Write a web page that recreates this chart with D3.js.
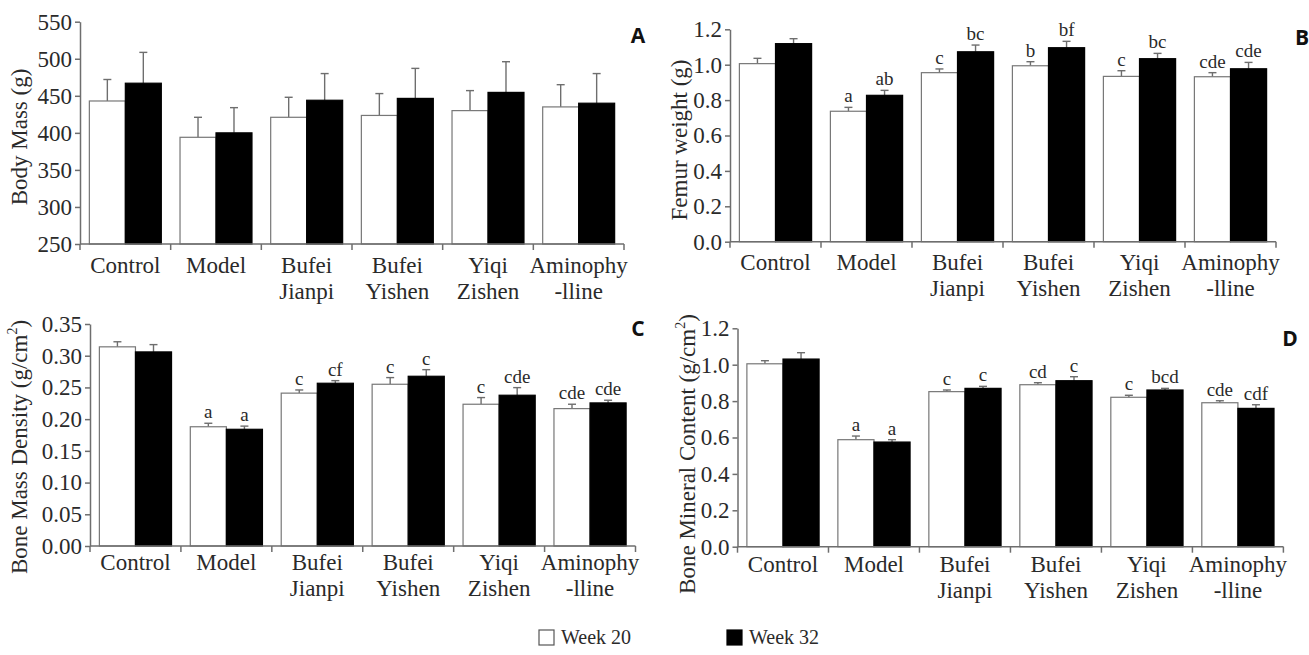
<!DOCTYPE html>
<html>
<head>
<meta charset="utf-8">
<script src="https://cdn.jsdelivr.net/npm/d3@7"></script>
<style>
  body { margin: 0; background: #fff; }
  text { font-family: 'Liberation Serif', 'Times New Roman', serif; fill: #2a2a2a; }
  .panel-letter { font-family: 'Open Sans', 'Liberation Sans', sans-serif; font-weight: bold; fill: #111; }
</style>
</head>
<body>
<div id="chart"></div>
<script>
// groups on the x axis (label lines)
const categories = ['Control', 'Model', 'Bufei Jianpi', 'Bufei Yishen', 'Yiqi Zishen', 'Aminophylline'];
const categoryLines = [['Control'], ['Model'], ['Bufei', 'Jianpi'], ['Bufei', 'Yishen'], ['Yiqi', 'Zishen'], ['Aminophy', '-lline']];
const seriesNames = ['Week 20', 'Week 32'];

// A - body mass (g)
const bodyMass20 = [443, 394, 421, 423.5, 430, 435];
const bodyMass20Err = [29, 27, 27, 29.5, 27, 30];
const bodyMass32 = [467, 400, 444, 446.5, 454.6, 440];
const bodyMass32Err = [41.6, 34, 36, 40.5, 41.4, 40];
const bodyMassTicks = [250, 300, 350, 400, 450, 500, 550];

// B - femur weight (g)
const femur20 = [1.006, 0.737, 0.955, 0.994, 0.934, 0.932];
const femur20Err = [0.03, 0.022, 0.021, 0.023, 0.032, 0.023];
const femur32 = [1.119, 0.827, 1.073, 1.096, 1.034, 0.977];
const femur32Err = [0.028, 0.028, 0.038, 0.036, 0.03, 0.036];
const femur20Sig = ['', 'a', 'c', 'b', 'c', 'cde'];
const femur32Sig = ['', 'ab', 'bc', 'bf', 'bc', 'cde'];
const femurTicks = [0, 0.2, 0.4, 0.6, 0.8, 1.0, 1.2];

// C - bone mass density (g/cm2)
const bmd20 = [0.314, 0.188, 0.241, 0.255, 0.2235, 0.2166];
const bmd20Err = [0.008, 0.0055, 0.005, 0.0105, 0.0105, 0.0069];
const bmd32 = [0.306, 0.184, 0.2566, 0.2676, 0.2377, 0.2256];
const bmd32Err = [0.0115, 0.005, 0.0041, 0.0104, 0.012, 0.0042];
const bmd20Sig = ['', 'a', 'c', 'c', 'c', 'cde'];
const bmd32Sig = ['', 'a', 'cf', 'c', 'cde', 'cde'];
const bmdTicks = [0, 0.05, 0.1, 0.15, 0.2, 0.25, 0.3, 0.35];

// D - bone mineral content (g/cm2)
const bmc20 = [1.005, 0.588, 0.852, 0.89, 0.821, 0.791];
const bmc20Err = [0.017, 0.02, 0.009, 0.011, 0.011, 0.011];
const bmc32 = [1.031, 0.575, 0.87, 0.912, 0.861, 0.76];
const bmc32Err = [0.035, 0.013, 0.011, 0.022, 0.009, 0.02];
const bmc20Sig = ['', 'a', 'c', 'cd', 'c', 'cde'];
const bmc32Sig = ['', 'a', 'c', 'c', 'bcd', 'cdf'];
const bmcTicks = [0, 0.2, 0.4, 0.6, 0.8, 1.0, 1.2];

const width = 1309,
  height = 655;

const axisColor = '#6e6e6e';

const svg = d3
  .select('#chart')
  .append('svg')
  .attr('width', width)
  .attr('height', height);

const panels = [
  {
    letter: 'A', title: ['Body Mass (g)'], ticks: bodyMassTicks, fmt: d3.format('d'),
    v20: bodyMass20, e20: bodyMass20Err, v32: bodyMass32, e32: bodyMass32Err, s20: null, s32: null,
    x0: 80, x1: 624, top: 21.7, bottom: 244, labelDy: 29,
    titleX: 27, titleY: 137, letterX: 638, letterY: 35
  },
  {
    letter: 'B', title: ['Femur weight (g)'], ticks: femurTicks, fmt: d3.format('.1f'),
    v20: femur20, e20: femur20Err, v32: femur32, e32: femur32Err, s20: femur20Sig, s32: femur32Sig,
    x0: 730, x1: 1276, top: 29.3, bottom: 241.7, labelDy: 28,
    titleX: 687, titleY: 140, letterX: 1302, letterY: 37
  },
  {
    letter: 'C', title: ['Bone Mass Density (g/cm', '2', ')'], ticks: bmdTicks, fmt: d3.format('.2f'),
    v20: bmd20, e20: bmd20Err, v32: bmd32, e32: bmd32Err, s20: bmd20Sig, s32: bmd32Sig,
    x0: 90, x1: 635.5, top: 324, bottom: 546, labelDy: 24,
    titleX: 27, titleY: 447, letterX: 638, letterY: 328
  },
  {
    letter: 'D', title: ['Bone Mineral Content (g/cm', '2', ')'], ticks: bmcTicks, fmt: d3.format('.1f'),
    v20: bmc20, e20: bmc20Err, v32: bmc32, e32: bmc32Err, s20: bmc20Sig, s32: bmc32Sig,
    x0: 737.5, x1: 1283.4, top: 328.3, bottom: 546.7, labelDy: 25,
    titleX: 695, titleY: 454, letterX: 1290, letterY: 338
  }
];

panels.forEach((p) => drawPanel(p));

function drawPanel(p) {
  const g = svg.append('g');

  const x = d3.scaleBand().domain(categories).range([p.x0, p.x1]).padding(0);
  const xs = d3
    .scaleBand()
    .domain(seriesNames)
    .range([0, x.bandwidth()])
    .paddingInner(0)
    .paddingOuter(0.26);
  const y = d3
    .scaleLinear()
    .domain([p.ticks[0], p.ticks[p.ticks.length - 1]])
    .range([p.bottom, p.top]);

  const rows = categories.map((c, i) => [
    { cat: c, s: 'Week 20', v: p.v20[i], e: p.e20[i], sig: p.s20 ? p.s20[i] : '' },
    { cat: c, s: 'Week 32', v: p.v32[i], e: p.e32[i], sig: p.s32 ? p.s32[i] : '' }
  ]).flat();

  // error bars first so bars sit on top of their base
  const err = g.append('g').attr('stroke', axisColor).attr('stroke-width', 1.4);
  rows.forEach((d) => {
    const cx = x(d.cat) + xs(d.s) + xs.bandwidth() / 2;
    err.append('line')
      .attr('x1', cx).attr('x2', cx)
      .attr('y1', y(d.v)).attr('y2', y(d.v + d.e));
    err.append('line')
      .attr('x1', cx - 4).attr('x2', cx + 4)
      .attr('y1', y(d.v + d.e)).attr('y2', y(d.v + d.e));
  });

  // bars
  g.append('g')
    .selectAll('rect')
    .data(rows)
    .join('rect')
    .attr('x', (d) => x(d.cat) + xs(d.s))
    .attr('y', (d) => y(d.v))
    .attr('width', xs.bandwidth())
    .attr('height', (d) => y(p.ticks[0]) - y(d.v))
    .attr('fill', (d) => (d.s === 'Week 20' ? '#fff' : '#000'))
    .attr('stroke', (d) => (d.s === 'Week 20' ? '#777' : '#000'))
    .attr('stroke-width', 1.2);

  // significance letters
  g.append('g')
    .selectAll('text')
    .data(rows.filter((d) => d.sig))
    .join('text')
    .attr('x', (d) => x(d.cat) + xs(d.s) + xs.bandwidth() / 2)
    .attr('y', (d) => y(d.v + d.e) - 5)
    .attr('text-anchor', 'middle')
    .attr('font-size', 19)
    .text((d) => d.sig);

  // y axis
  g.append('g')
    .attr('transform', `translate(${p.x0},0)`)
    .call(d3.axisLeft(y).tickValues(p.ticks).tickFormat(p.fmt).tickSize(5).tickSizeOuter(0).tickPadding(3))
    .call((a) => a.select('.domain').attr('stroke', axisColor).attr('stroke-width', 1.5))
    .call((a) => a.selectAll('.tick line').attr('stroke', axisColor).attr('stroke-width', 1.5))
    .call((a) => a.selectAll('.tick text').attr('font-size', 23));

  // x axis: line plus ticks on group boundaries
  const xa = g.append('g').attr('stroke', axisColor).attr('stroke-width', 1.5);
  xa.append('line')
    .attr('x1', p.x0).attr('x2', p.x1)
    .attr('y1', p.bottom).attr('y2', p.bottom);
  const bounds = categories.map((c) => x(c)).concat([p.x1]);
  xa.selectAll('line.b')
    .data(bounds)
    .join('line')
    .attr('class', 'b')
    .attr('x1', (d) => d).attr('x2', (d) => d)
    .attr('y1', p.bottom).attr('y2', p.bottom + 6);

  // category labels
  const lab = g.append('g')
    .selectAll('text')
    .data(categories)
    .join('text')
    .attr('text-anchor', 'middle')
    .attr('font-size', 23)
    .attr('transform', (d) => `translate(${x(d) + x.bandwidth() / 2},${p.bottom + p.labelDy})`);
  lab.each(function (d, i) {
    d3.select(this)
      .selectAll('tspan')
      .data(categoryLines[i])
      .join('tspan')
      .attr('x', 0)
      .attr('dy', (t, j) => (j === 0 ? 0 : 26))
      .text((t) => t);
  });

  // y title
  const t = g.append('text')
    .attr('transform', `translate(${p.titleX},${p.titleY}) rotate(-90)`)
    .attr('text-anchor', 'middle')
    .attr('font-size', 23);
  t.append('tspan').text(p.title[0]);
  if (p.title.length > 1) {
    t.append('tspan').attr('font-size', 14).attr('dy', -10).text(p.title[1]);
    t.append('tspan').attr('dy', 10).text(p.title[2]);
  }

  // panel letter
  g.append('text')
    .attr('class', 'panel-letter')
    .attr('x', p.letterX)
    .attr('y', p.letterY)
    .attr('text-anchor', 'middle')
    .attr('dominant-baseline', 'central')
    .attr('font-size', 21)
    .text(p.letter);
}

// legend
const legend = svg.append('g').attr('transform', 'translate(539,630)');
const li = legend
  .selectAll('g')
  .data(seriesNames)
  .join('g')
  .attr('transform', (d, i) => `translate(${i * 188},0)`);
li.append('rect')
  .attr('width', 15)
  .attr('height', 15)
  .attr('fill', (d, i) => (i === 0 ? '#fff' : '#000'))
  .attr('stroke', (d, i) => (i === 0 ? '#555' : '#000'))
  .attr('stroke-width', 1.2);
li.append('text')
  .attr('x', 22)
  .attr('y', 14)
  .attr('font-size', 20)
  .text((d) => d);
</script>
</body>
</html>
